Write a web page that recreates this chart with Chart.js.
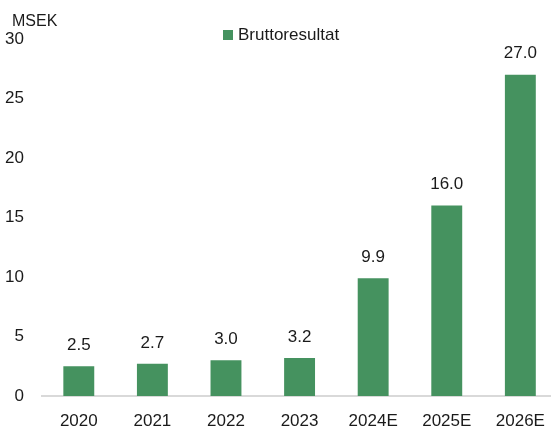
<!DOCTYPE html>
<html>
<head>
<meta charset="utf-8">
<script src="https://cdn.jsdelivr.net/npm/chart.js@4"></script>
<style>
    html, body { margin: 0; padding: 0; background: #fff; overflow: hidden; }
    #wrap { position: relative; width: 551px; height: 427px; overflow: hidden; }
    #box { position: absolute; left: 0; top: 0; width: 560px; height: 427px; }
    .lbl { position: absolute; font-family: "Liberation Sans", Arial, sans-serif; color: #1a1a1a; white-space: nowrap; }
    #unit { left: 12px; top: 12px; font-size: 16px; }
    #legend { left: 223px; top: 26px; font-size: 17px; line-height: 18px; }
    #legend span { display: inline-block; width: 10px; height: 10px; background: #45925f; margin-right: 5px; vertical-align: 0px; }
</style>
</head>
<body>
<div id="wrap">
    <div id="box"><canvas id="chart" width="560" height="427"></canvas></div>
    <div class="lbl" id="unit">MSEK</div>
    <div class="lbl" id="legend"><span></span>Bruttoresultat</div>
</div>
<script>
// Data
const years = ['2020', '2021', '2022', '2023', '2024E', '2025E', '2026E'];
const grossProfit = [2.5, 2.7, 3.0, 3.2, 9.9, 16.0, 27.0];
const yTicks = [0, 5, 10, 15, 20, 25, 30];

const FONT = '"Liberation Sans", Arial, sans-serif';
const BAR_COLOR = '#45925f';

// Draw value labels above each bar
const valueLabels = {
    id: 'valueLabels',
    afterDatasetsDraw(chart) {
        const ctx = chart.ctx;
        const meta = chart.getDatasetMeta(0);
        ctx.save();
        ctx.font = '17px ' + FONT;
        ctx.fillStyle = '#1a1a1a';
        ctx.textAlign = 'center';
        ctx.textBaseline = 'middle';
        meta.data.forEach((bar, i) => {
            ctx.fillText(grossProfit[i].toFixed(1), bar.x, bar.y - 21);
        });
        ctx.restore();
    }
};

new Chart(document.getElementById('chart'), {
    type: 'bar',
    data: {
        labels: years,
        datasets: [{
            label: 'Bruttoresultat',
            data: grossProfit,
            backgroundColor: BAR_COLOR,
            barPercentage: 0.84,
            categoryPercentage: 0.5
        }]
    },
    options: {
        responsive: false,
        animation: false,
        devicePixelRatio: 1,
        layout: { padding: { top: 39, right: 1, left: 0, bottom: 0 } },
        plugins: {
            legend: { display: false },
            tooltip: { enabled: false }
        },
        scales: {
            x: {
                grid: { display: false, drawTicks: false },
                border: { display: true, color: '#d9d9d9', width: 2 },
                ticks: { color: '#1a1a1a', font: { family: FONT, size: 17 }, padding: 15, maxRotation: 0, autoSkip: false },
                afterFit(scale) { scale.height = 31; }
            },
            y: {
                min: 0,
                max: 30,
                grid: { display: false, drawTicks: false },
                border: { display: false },
                afterBuildTicks(scale) { scale.ticks = yTicks.map(v => ({ value: v })); },
                ticks: { color: '#1a1a1a', font: { family: FONT, size: 17 }, padding: 18 },
                afterFit(scale) { scale.width = 42; }
            }
        }
    },
    plugins: [valueLabels]
});
</script>
</body>
</html>
